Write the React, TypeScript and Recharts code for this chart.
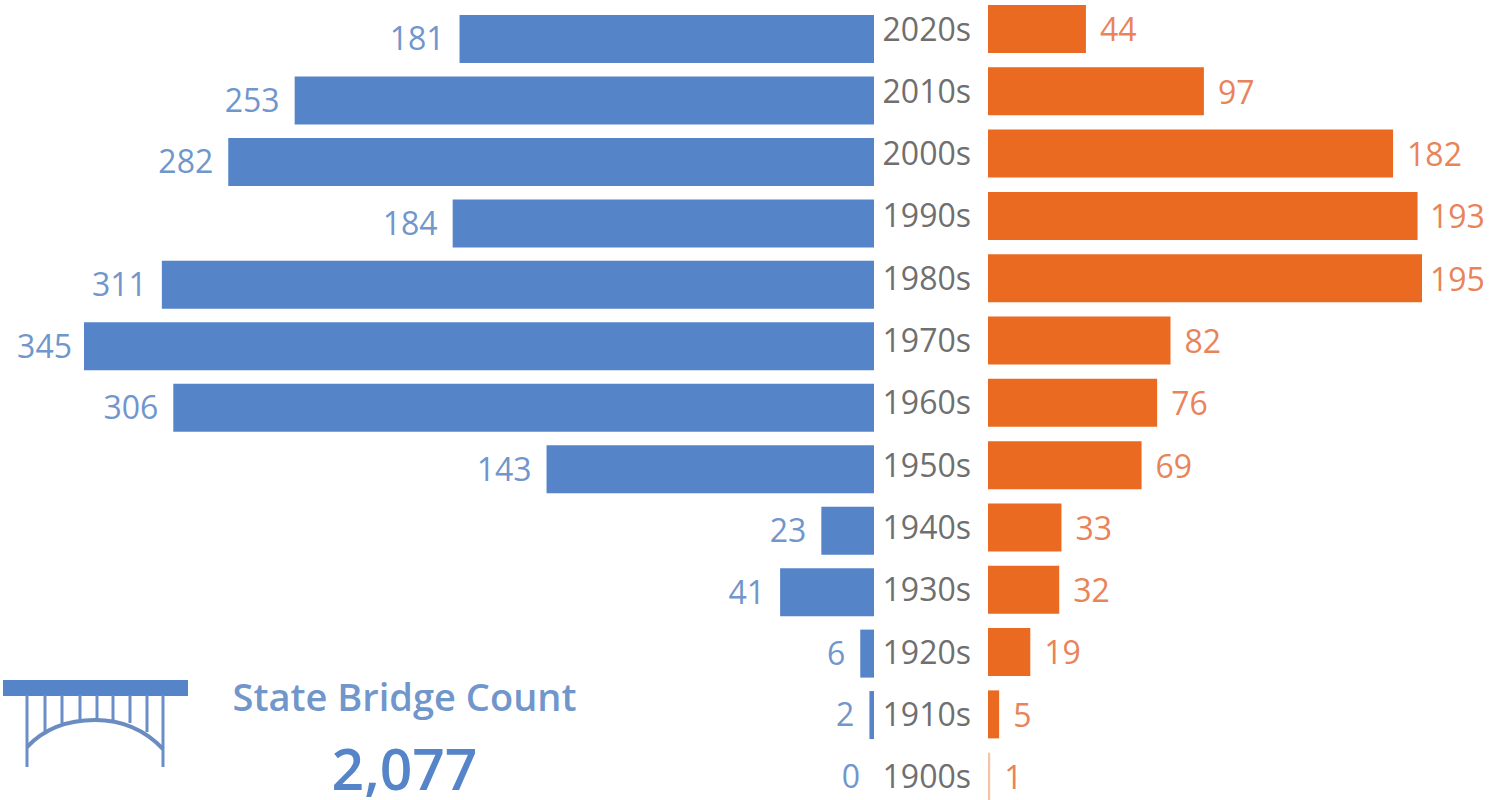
import { BarChart, Bar, XAxis, YAxis, LabelList, Cell } from "recharts";

const decades = ["2020s", "2010s", "2000s", "1990s", "1980s", "1970s", "1960s", "1950s", "1940s", "1930s", "1920s", "1910s", "1900s"];
const stateBridges = [181, 253, 282, 184, 311, 345, 306, 143, 23, 41, 6, 2, 0];
const otherBridges = [44, 97, 182, 193, 195, 82, 76, 69, 33, 32, 19, 5, 1];
const stateTotal = "2,077";

const stateData = decades.map((decade, i) => ({ decade, value: stateBridges[i] }));
const otherData = decades.map((decade, i) => ({ decade, value: otherBridges[i] }));

const BLUE = "#5585c8";
const BLUE_TEXT = "#7096cb";
const ORANGE = "#e96a20";
const ORANGE_TEXT = "#e9835a";
const FONT = "'Open Sans', sans-serif";

// the longest bars push their label back inside the chart
const StateLabel = ({ x, y, width, height, value }: any) => (
    <text
        x={Math.max(x + width - 15, 72)}
        y={y + height / 2}
        dy="0.355em"
        textAnchor="end"
        fill={BLUE_TEXT}
        fontSize={32}
        fontFamily={FONT}
    >
        {value}
    </text>
);

const OtherLabel = ({ x, y, width, height, value }: any) => (
    <text
        x={Math.min(x + width + 14, 550)}
        y={y + height / 2 + 1}
        dy="0.355em"
        textAnchor="start"
        fill={ORANGE_TEXT}
        fontSize={32}
        fontFamily={FONT}
    >
        {value}
    </text>
);

const hangers = [[27, 92], [45, 57], [62, 48], [80, 45], [97, 45], [113, 45], [130, 48], [147, 57], [163, 92]];

const BridgeIcon = () => (
    <svg width={190} height={100} style={{ position: "absolute", left: 0, top: 675 }}>
        <rect x={3} y={5} width={185} height={16} fill={BLUE} />
        {hangers.map(([x, end]) => (
            <line key={x} x1={x} x2={x} y1={20} y2={end} stroke="#6a8fc8" strokeWidth={3} />
        ))}
        <path d="M27 72 C45 53 70 45 95 45 C122 45 145 55 163 74" fill="none" stroke="#6a8cc0" strokeWidth={4} />
    </svg>
);

export default function App() {
    return (
        <div style={{ position: "absolute", left: 0, top: 0, width: 1498, height: 800, overflow: "hidden", background: "#fff", fontFamily: FONT }}>
            <div style={{ position: "absolute", left: 0, top: 8 }}>
                <BarChart
                    width={874}
                    height={799}
                    layout="vertical"
                    data={stateData}
                    margin={{ top: 0, right: 0, bottom: 0, left: 84 }}
                    barCategoryGap={0}
                >
                    <XAxis type="number" hide reversed domain={[0, 345]} />
                    <YAxis type="category" dataKey="decade" hide />
                    {/* a zero row gets no rectangle and no label unless it has some width */}
                    <Bar dataKey="value" fill={BLUE} barSize={48} minPointSize={(v: number) => (v === 0 ? 1 : 0)} isAnimationActive={false}>
                        {stateData.map((d) => (
                            <Cell key={d.decade} fill={d.value === 0 ? "none" : BLUE} />
                        ))}
                        <LabelList dataKey="value" content={StateLabel} />
                    </Bar>
                </BarChart>
            </div>
            <div style={{ position: "absolute", left: 880, top: -2 }}>
                <BarChart
                    width={618}
                    height={810}
                    layout="vertical"
                    data={otherData}
                    margin={{ top: 0, right: 76, bottom: 0, left: 0 }}
                    barCategoryGap={0}
                >
                    <XAxis type="number" hide domain={[0, 195]} />
                    <YAxis
                        type="category"
                        dataKey="decade"
                        width={108}
                        axisLine={false}
                        tickLine={false}
                        tickMargin={11}
                        interval={0}
                        tick={{ fill: "#6f6f6f", fontSize: 32, fontFamily: FONT }}
                    />
                    <Bar dataKey="value" fill={ORANGE} barSize={48} isAnimationActive={false}>
                        {otherData.map((d) => (
                            <Cell key={d.decade} fill={d.value === 1 ? "#f3c4a8" : ORANGE} />
                        ))}
                        <LabelList dataKey="value" content={OtherLabel} />
                    </Bar>
                </BarChart>
            </div>
            <BridgeIcon />
            <div style={{ position: "absolute", left: 232, top: 670, width: 345, textAlign: "center", color: BLUE_TEXT, fontSize: 38, fontWeight: 600, whiteSpace: "nowrap" }}>
                State Bridge Count
            </div>
            <div style={{ position: "absolute", left: 232, top: 738, width: 345, height: 60, lineHeight: "60px", textAlign: "center", color: BLUE, fontSize: 57, fontWeight: 600, whiteSpace: "nowrap" }}>
                {stateTotal}
            </div>
        </div>
    );
}
